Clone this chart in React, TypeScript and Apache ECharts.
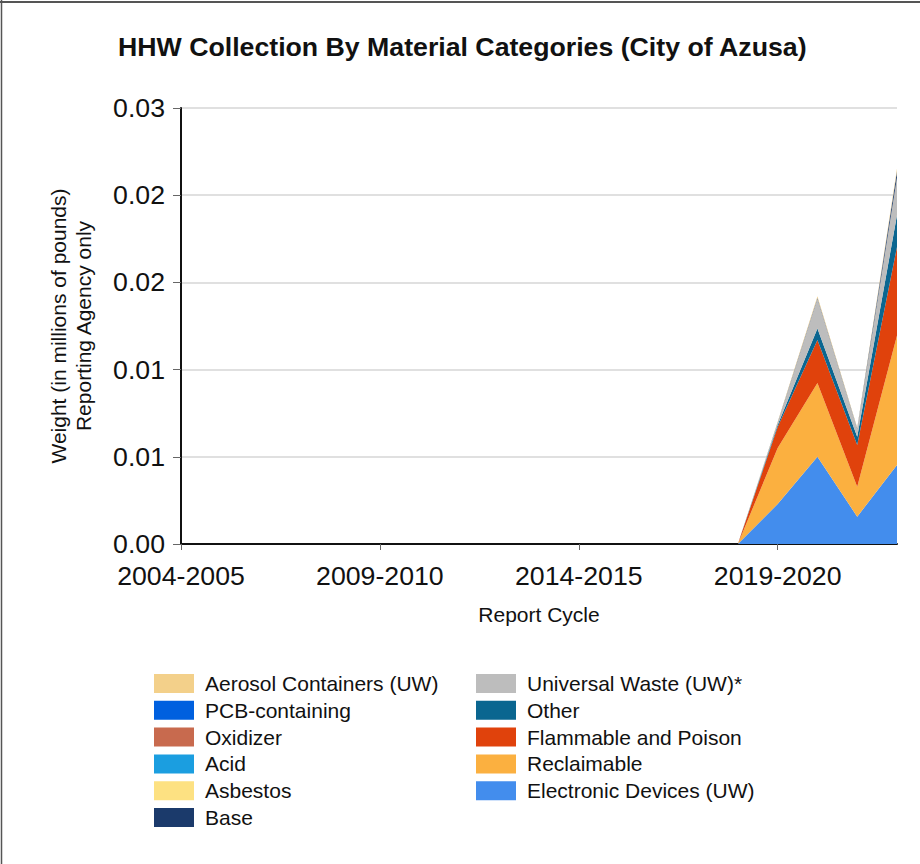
import React, { useEffect, useRef } from "react";
import * as echarts from "echarts";

const categories = [
  "2004-2005", "2005-2006", "2006-2007", "2007-2008", "2008-2009",
  "2009-2010", "2010-2011", "2011-2012", "2012-2013", "2013-2014",
  "2014-2015", "2015-2016", "2016-2017", "2017-2018", "2018-2019",
  "2019-2020", "2020-2021", "2021-2022", "2022-2023",
];

const lead: (number | null)[] = [null, null, null, null, null, null, null, null, null, null, null, null, null, null];

// values for 2018-2019 .. 2022-2023 (millions of pounds)
const electronicDevices = [0, 0.00275, 0.0060, 0.00188, 0.00544];
const reclaimable = [0, 0.00385, 0.00507, 0.00206, 0.0089];
const flammablePoison = [0, 0.00145, 0.00296, 0.00287, 0.0061];
const other = [0, 0.00014, 0.0008, 0.00057, 0.0022];
const universalWaste = [0, 0.00014, 0.00206, 0.00055, 0.0026];
const base = [0, 0.00003, 0.00005, 0.00004, 0.0004];
const asbestos = [0, 0, 0, 0, 0];
const acid = [0, 0, 0, 0, 0];
const oxidizer = [0, 0, 0, 0, 0];
const pcbContaining = [0, 0, 0, 0, 0];
const aerosolContainers = [0, 0.00005, 0.0001, 0.00005, 0.0002];

const yTicks = { min: 0, max: 0.03, interval: 0.006 };

const seriesDefs = [
  { name: "Electronic Devices (UW)", data: electronicDevices, color: "#438ded" },
  { name: "Reclaimable", data: reclaimable, color: "#fbb040" },
  { name: "Flammable and Poison", data: flammablePoison, color: "#e0420c" },
  { name: "Other", data: other, color: "#0a6690" },
  { name: "Universal Waste (UW)*", data: universalWaste, color: "#bdbdbd" },
  { name: "Base", data: base, color: "#1b3a6b" },
  { name: "Asbestos", data: asbestos, color: "#fde182" },
  { name: "Acid", data: acid, color: "#1b9ee0" },
  { name: "Oxidizer", data: oxidizer, color: "#c86a4e" },
  { name: "PCB-containing", data: pcbContaining, color: "#0060df" },
  { name: "Aerosol Containers (UW)", data: aerosolContainers, color: "#f3d08a" },
];

const legendCol1 = ["Aerosol Containers (UW)", "PCB-containing", "Oxidizer", "Acid", "Asbestos", "Base"];
const legendCol2 = ["Universal Waste (UW)*", "Other", "Flammable and Poison", "Reclaimable", "Electronic Devices (UW)"];

const FONT = "'Liberation Sans', Arial, sans-serif";

export default function App() {
  const ref = useRef<HTMLDivElement>(null);
  useEffect(() => {
    if (!ref.current) return;
    const chart = echarts.init(ref.current, undefined, { renderer: "svg" });
    const legendCommon = {
      orient: "vertical" as const,
      top: 668,
      itemWidth: 40,
      itemHeight: 19,
      itemGap: 5.8,
      icon: "rect",
      selectedMode: false,
      textStyle: { fontFamily: FONT, fontSize: 21, color: "#111", lineHeight: 21, padding: [0, 0, 0, 6] },
    };
    chart.setOption({
      animation: false,
      backgroundColor: "#fff",
      textStyle: { fontFamily: FONT },
      title: {
        text: "HHW Collection By Material Categories (City of Azusa)",
        left: 113,
        top: 28,
        textStyle: { fontFamily: FONT, fontSize: 26.7, fontWeight: "bold", color: "#111" },
      },
      legend: [
        { ...legendCommon, left: 149, data: legendCol1 },
        { ...legendCommon, left: 471, data: legendCol2 },
      ],
      grid: { left: 181, right: 23, top: 108, bottom: 320, containLabel: false },
      xAxis: {
        type: "category",
        data: categories,
        boundaryGap: false,
        name: "Report Cycle",
        nameLocation: "middle",
        nameGap: 60,
        nameTextStyle: { fontFamily: FONT, fontSize: 21, color: "#111" },
        axisLine: { lineStyle: { color: "#111", width: 2 } },
        axisTick: { interval: 4, length: 6, lineStyle: { color: "#666" } },
        axisLabel: { interval: 4, margin: 18, fontFamily: FONT, fontSize: 26.7, color: "#111" },
        splitLine: { show: false },
      },
      yAxis: {
        type: "value",
        min: yTicks.min,
        max: yTicks.max,
        interval: yTicks.interval,
        name: "Weight (in millions of pounds)\nReporting Agency only",
        nameLocation: "middle",
        nameGap: 85,
        nameTextStyle: { fontFamily: FONT, fontSize: 21, color: "#111", lineHeight: 25 },
        axisLine: { show: true, lineStyle: { color: "#111", width: 2 } },
        axisTick: { show: true, length: 8, lineStyle: { color: "#666" } },
        axisLabel: {
          margin: 16,
          fontFamily: FONT,
          fontSize: 26.7,
          color: "#111",
          formatter: (v: number) => v.toFixed(2),
        },
        splitLine: { lineStyle: { color: "#e0e0e0", width: 2 } },
      },
      series: seriesDefs.map((s) => ({
        name: s.name,
        type: "line",
        stack: "total",
        data: [...lead, ...s.data],
        showSymbol: false,
        symbol: "none",
        lineStyle: { width: 0, color: s.color },
        itemStyle: { color: s.color },
        areaStyle: { color: s.color, opacity: 1 },
        emphasis: { disabled: true },
      })),
      graphic: [
        { type: "line", shape: { x1: 0, y1: 2, x2: 920, y2: 2 }, style: { stroke: "#555", lineWidth: 2 } },
        { type: "line", shape: { x1: 1.5, y1: 0, x2: 1.5, y2: 864 }, style: { stroke: "#555", lineWidth: 1.5 } },
      ],
    });
    return () => chart.dispose();
  }, []);
  return (
    <div
      ref={ref}
      style={{ position: "fixed", left: 0, top: 0, width: 920, height: 864 }}
    />
  );
}
